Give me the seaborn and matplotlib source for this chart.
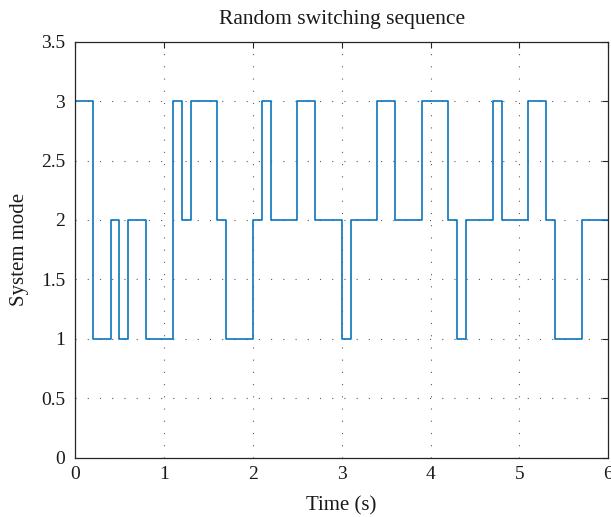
import numpy as np
import pandas as pd
import matplotlib
matplotlib.use("Agg")
import matplotlib.pyplot as plt
import seaborn as sns

# Active subsystem in each 0.1 s sampling interval over 0-6 s
sample_period = 0.1
modes = [3, 3, 1, 1, 2, 1, 2, 2, 1, 1,
         1, 3, 2, 3, 3, 3, 2, 1, 1, 1,
         2, 3, 2, 2, 2, 3, 3, 2, 2, 2,
         1, 2, 2, 2, 3, 3, 2, 2, 2, 3,
         3, 3, 2, 1, 2, 2, 2, 3, 2, 2,
         2, 3, 3, 2, 1, 1, 1, 2, 2, 2]
initial_mode = 0

x_ticks = [0, 1, 2, 3, 4, 5, 6]
y_ticks = [0, 0.5, 1, 1.5, 2, 2.5, 3, 3.5]
y_tick_labels = ["0", "0.5", "1", "1.5", "2", "2.5", "3", "3.5"]

n = len(modes)
times = np.concatenate([[0.0], np.arange(n + 1) * sample_period])
values = np.concatenate([[initial_mode], modes, [modes[-1]]])
df = pd.DataFrame({"Time": times, "Mode": values})

sns.set_theme(style="white")
plt.rcParams["font.family"] = ["Liberation Serif", "DejaVu Serif"]

fig = plt.figure(figsize=(6.11, 5.17), dpi=100)
ax = fig.add_axes([75 / 611, 1 - 457.5 / 517, (608.3 - 75) / 611, (457.5 - 41.7) / 517])

sns.lineplot(data=df, x="Time", y="Mode", ax=ax, sort=False, estimator=None,
             drawstyle="steps-post", color="#0A74BE", linewidth=1.2)

ax.set_xlim(0, 6)
ax.set_ylim(0, 3.5)
ax.set_xticks(x_ticks)
ax.set_xticklabels([str(v) for v in x_ticks])
ax.set_yticks(y_ticks)
ax.set_yticklabels(y_tick_labels)

ax.grid(True, linestyle=(0, (1, 10)), color="#333333", linewidth=0.8, alpha=0.8)
ax.set_axisbelow(True)

for side in ["left", "right", "top", "bottom"]:
    ax.spines[side].set_visible(True)
    ax.spines[side].set_color("#262626")
    ax.spines[side].set_linewidth(0.9)

ax.tick_params(axis="both", direction="in", length=4, width=0.8, colors="#262626",
               labelsize=14, top=True, right=True, labelcolor="#1a1a1a")
ax.tick_params(axis="x", pad=6)
ax.tick_params(axis="y", pad=7)
ax.minorticks_off()

ax.set_title("Random switching sequence", fontsize=15.5, color="#1a1a1a", pad=13)
ax.set_xlabel("Time (s)", fontsize=15, color="#1a1a1a", labelpad=10)
ax.set_ylabel("System mode", fontsize=15, color="#1a1a1a", labelpad=9)

fig.savefig("out.png", dpi=100)
